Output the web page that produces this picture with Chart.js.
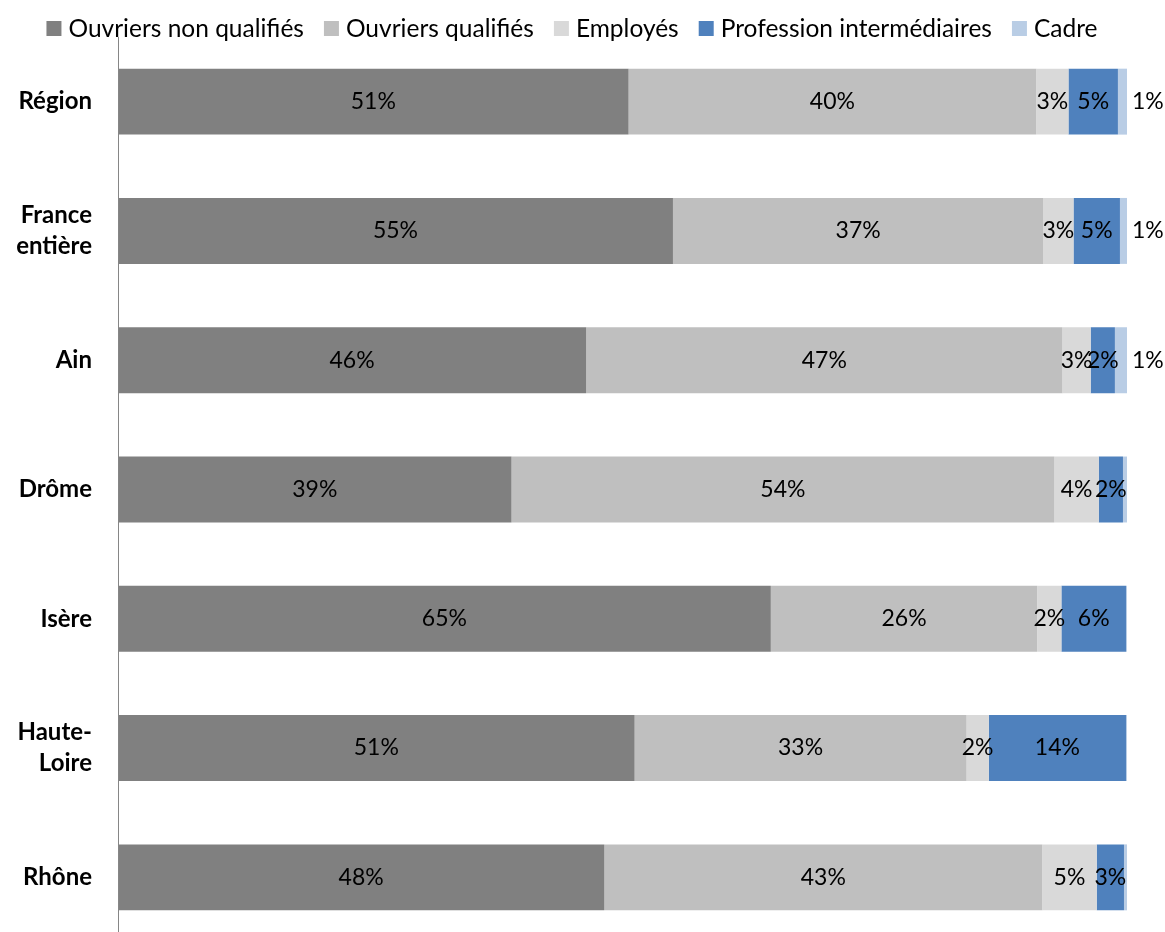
<!DOCTYPE html>
<html>
<head>
<meta charset="utf-8">
<script src="https://cdn.jsdelivr.net/npm/chart.js@4"></script>
<style>
  html, body { margin: 0; padding: 0; background: #fff; overflow: hidden; }
  canvas { display: block; }
</style>
</head>
<body>
<canvas id="chart" width="1165" height="942"></canvas>
<script>
// Categories (y axis), multi-line where the label wraps
var categories = ['Région', ['France', 'entière'], 'Ain', 'Drôme', 'Isère', ['Haute-', 'Loire'], 'Rhône'];

// Share of each group in %, one array per series
var ouvriersNonQualifies = [50.6, 55.0, 46.4, 39.0, 64.7, 51.2, 48.2];
var ouvriersQualifies    = [40.4, 36.7, 47.2, 53.8, 26.4, 32.9, 43.4];
var employes             = [3.2, 3.0, 2.8, 4.4, 2.4, 2.2, 5.4];
var professionInter      = [4.9, 4.6, 2.4, 2.4, 6.4, 13.6, 2.7];
var cadre                = [0.9, 0.7, 1.2, 0.4, 0.1, 0.1, 0.3];

var seriesNames = ['Ouvriers non qualifiés', 'Ouvriers qualifiés', 'Employés', 'Profession intermédiaires', 'Cadre'];
var seriesColors = ['#808080', '#bfbfbf', '#d9d9d9', '#4f81bd', '#b9cde5'];
var seriesData = [ouvriersNonQualifies, ouvriersQualifies, employes, professionInter, cadre];

var FONT = 'Lato, "Open Sans", sans-serif';

// draw the % labels in the middle of each segment (last series sits to the right of the bar)
var barLabels = {
  id: 'barLabels',
  afterDatasetsDraw: function(chart) {
    var ctx = chart.ctx;
    ctx.save();
    ctx.font = '23px ' + FONT;
    ctx.fillStyle = '#000';
    ctx.textBaseline = 'middle';
    chart.data.datasets.forEach(function(ds, di) {
      var meta = chart.getDatasetMeta(di);
      meta.data.forEach(function(bar, i) {
        var v = ds.data[i];
        if (v < 0.5) return;
        var txt = Math.round(v) + '%';
        if (di == chart.data.datasets.length - 1) {
          ctx.textAlign = 'left';
          ctx.fillText(txt, bar.x + 5, bar.y);
        } else {
          ctx.textAlign = 'center';
          ctx.fillText(txt, (bar.base + bar.x) / 2, bar.y);
        }
      });
    });
    ctx.restore();
  }
};

// legend row across the top: small square, then the name
var topLegend = {
  id: 'topLegend',
  afterDraw: function(chart) {
    var ctx = chart.ctx;
    var box = 15, gap = 7, spacing = 20;
    ctx.save();
    ctx.font = '24.5px ' + FONT;
    ctx.textBaseline = 'middle';
    ctx.textAlign = 'left';
    var items = chart.data.datasets.map(function(ds) {
      return { text: ds.label, color: ds.backgroundColor, w: ctx.measureText(ds.label).width };
    });
    var total = 0;
    items.forEach(function(it, i) {
      total += box + gap + it.w + (i < items.length - 1 ? spacing : 0);
    });
    var x = 572 - total / 2;
    items.forEach(function(it) {
      ctx.fillStyle = it.color;
      ctx.fillRect(x, 21, box, box);
      ctx.fillStyle = '#000';
      ctx.fillText(it.text, x + box + gap, 29);
      x += box + gap + it.w + spacing;
    });
    ctx.restore();
  }
};

// y axis line runs from the top of the plot to the bottom edge
var axisLine = {
  id: 'axisLine',
  afterDraw: function(chart) {
    var ctx = chart.ctx;
    var x = chart.chartArea.left + 0.5;
    ctx.save();
    ctx.strokeStyle = '#868686';
    ctx.lineWidth = 1;
    ctx.beginPath();
    ctx.moveTo(x, chart.chartArea.top);
    ctx.lineTo(x, chart.height);
    ctx.stroke();
    ctx.restore();
  }
};

var datasets = [];
for (var i = 0; i < seriesNames.length; i++) {
  datasets.push({
    label: seriesNames[i],
    data: seriesData[i],
    backgroundColor: seriesColors[i],
    borderWidth: 0,
    categoryPercentage: 1,
    barPercentage: 0.51
  });
}

new Chart(document.getElementById('chart'), {
  type: 'bar',
  data: { labels: categories, datasets: datasets },
  plugins: [barLabels, topLegend, axisLine],
  options: {
    indexAxis: 'y',
    responsive: false,
    animation: false,
    layout: { padding: { left: 0, right: 38, top: 37, bottom: 0 } },
    plugins: {
      tooltip: { enabled: false },
      legend: { display: false }
    },
    scales: {
      x: {
        stacked: true,
        min: 0,
        max: 100,
        display: false
      },
      y: {
        stacked: true,
        grid: { display: false, drawTicks: false },
        border: { display: false },
        ticks: {
          color: '#000',
          padding: 26,
          font: { family: FONT, size: 24, weight: 'bold', lineHeight: 1.3 }
        },
        afterFit: function(scale) {
          scale.width = 118;
          scale.paddingTop = 0;
          scale.paddingBottom = 0;
        }
      }
    }
  }
});
</script>
</body>
</html>
